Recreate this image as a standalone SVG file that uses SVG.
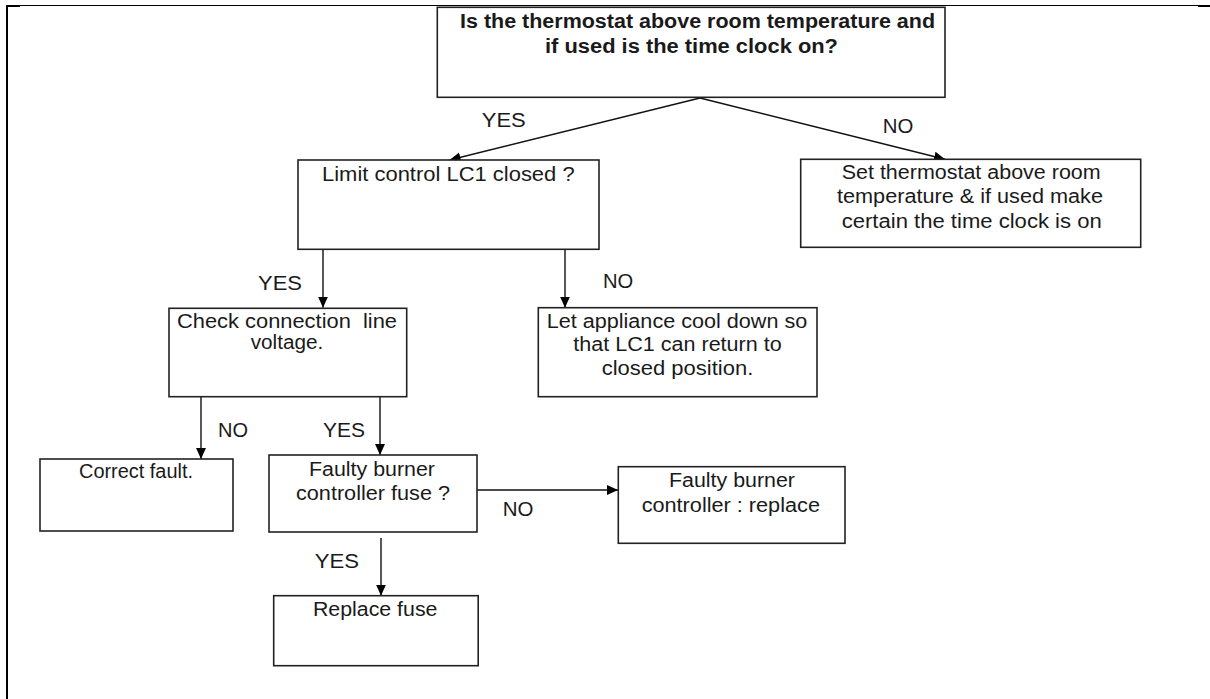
<svg xmlns="http://www.w3.org/2000/svg" width="1210" height="699" viewBox="0 0 1210 699">
<style>
  .box { fill: #ffffff; stroke: #222222; stroke-width: 1.6; }
  .t { font-family: "Liberation Sans", Arial, sans-serif; font-size: 20px; fill: #1a1a1a; text-anchor: middle; }
  .b { font-weight: bold; }
  .lbl { font-family: "Liberation Sans", Arial, sans-serif; font-size: 20px; fill: #1a1a1a; }
  .conn { stroke: #111111; stroke-width: 1.4; fill: none; marker-end: url(#arr); }
  .frame { stroke: #000000; fill: none; }
</style>
<defs>
  <marker id="arr" viewBox="0 0 10 10" refX="10" refY="5" markerWidth="11" markerHeight="11" markerUnits="userSpaceOnUse" orient="auto">
    <path d="M0,0.5 L10,5 L0,9.5 z" fill="#000000"/>
  </marker>
</defs>
<rect width="1210" height="699" fill="#ffffff"/>
<g id="frame">
  <line class="frame" x1="6" y1="5.5" x2="1198" y2="5.5" stroke-width="1"/>
  <rect x="6" y="5" width="14" height="2" fill="#000000"/>
  <rect x="1198" y="5" width="12" height="2" fill="#000000"/>
  <rect x="6" y="5" width="2" height="694" fill="#000000"/>
</g>
<g id="connectors">
  <line class="conn" x1="700" y1="98" x2="449.6" y2="160"/>
  <line class="conn" x1="700" y1="98" x2="945" y2="159.3"/>
  <line class="conn" x1="323" y1="249.3" x2="323" y2="307.7"/>
  <line class="conn" x1="565" y1="249.3" x2="565" y2="307.7"/>
  <line class="conn" x1="201" y1="396.7" x2="201" y2="459"/>
  <line class="conn" x1="380" y1="396.7" x2="380" y2="455"/>
  <line class="conn" x1="477" y1="490" x2="618" y2="490"/>
  <line class="conn" x1="381" y1="538" x2="381" y2="595.7"/>
  <text class="lbl" x="481.8" y="126.7" textLength="44" lengthAdjust="spacingAndGlyphs">YES</text>
  <text class="lbl" x="882.7" y="133.3" textLength="30.6" lengthAdjust="spacingAndGlyphs">NO</text>
  <text class="lbl" x="258" y="290" textLength="44" lengthAdjust="spacingAndGlyphs">YES</text>
  <text class="lbl" x="603" y="288.3" textLength="30.3" lengthAdjust="spacingAndGlyphs">NO</text>
  <text class="lbl" x="218" y="437" textLength="30" lengthAdjust="spacingAndGlyphs">NO</text>
  <text class="lbl" x="323" y="437" textLength="42" lengthAdjust="spacingAndGlyphs">YES</text>
  <text class="lbl" x="502.8" y="516" textLength="30.7" lengthAdjust="spacingAndGlyphs">NO</text>
  <text class="lbl" x="314.7" y="568.3" textLength="44.3" lengthAdjust="spacingAndGlyphs">YES</text>
</g>
<g id="n-start">
  <rect class="box" x="437.3" y="7.3" width="507.7" height="90"/>
  <text class="t b" x="697.5" y="28.3" textLength="475" lengthAdjust="spacingAndGlyphs">Is the thermostat above room temperature and</text>
  <text class="t b" x="691.5" y="53.3" textLength="293" lengthAdjust="spacingAndGlyphs">if used is the time clock on?</text>
</g>
<g id="n-limit">
  <rect class="box" x="298" y="160" width="301" height="89.3"/>
  <text class="t" x="448.3" y="180.7" textLength="252.6" lengthAdjust="spacingAndGlyphs">Limit control LC1 closed ?</text>
</g>
<g id="n-set">
  <rect class="box" x="800.7" y="159.3" width="340" height="88"/>
  <text class="t" x="971.2" y="179.3" textLength="259" lengthAdjust="spacingAndGlyphs">Set thermostat above room</text>
  <text class="t" x="970" y="203.3" textLength="266" lengthAdjust="spacingAndGlyphs">temperature &amp; if used make</text>
  <text class="t" x="971.7" y="228.3" textLength="260" lengthAdjust="spacingAndGlyphs">certain the time clock is on</text>
</g>
<g id="n-check">
  <rect class="box" x="169" y="308.3" width="237.7" height="88.4"/>
  <text class="t" x="287" y="328.3" textLength="220" lengthAdjust="spacingAndGlyphs" xml:space="preserve">Check connection  line</text>
  <text class="t" x="287" y="349" textLength="72.6" lengthAdjust="spacingAndGlyphs">voltage.</text>
</g>
<g id="n-cool">
  <rect class="box" x="538.3" y="307.7" width="278.7" height="89"/>
  <text class="t" x="677" y="328.3" textLength="260.6" lengthAdjust="spacingAndGlyphs">Let appliance cool down so</text>
  <text class="t" x="677.5" y="351" textLength="208.4" lengthAdjust="spacingAndGlyphs">that LC1 can return to</text>
  <text class="t" x="677.5" y="375" textLength="151.6" lengthAdjust="spacingAndGlyphs">closed position.</text>
</g>
<g id="n-correct">
  <rect class="box" x="40" y="459" width="193" height="72"/>
  <text class="t" x="136" y="478" textLength="114" lengthAdjust="spacingAndGlyphs">Correct fault.</text>
</g>
<g id="n-fuse">
  <rect class="box" x="269" y="455" width="208" height="77"/>
  <text class="t" x="372" y="476" textLength="126" lengthAdjust="spacingAndGlyphs">Faulty burner</text>
  <text class="t" x="373" y="500" textLength="154" lengthAdjust="spacingAndGlyphs">controller fuse ?</text>
</g>
<g id="n-controller">
  <rect class="box" x="618.3" y="466.7" width="226.7" height="76.6"/>
  <text class="t" x="732" y="486.7" textLength="126" lengthAdjust="spacingAndGlyphs">Faulty burner</text>
  <text class="t" x="730.8" y="511.7" textLength="178.3" lengthAdjust="spacingAndGlyphs">controller : replace</text>
</g>
<g id="n-replace">
  <rect class="box" x="273.7" y="595.7" width="204.5" height="70"/>
  <text class="t" x="375.2" y="616" textLength="124.5" lengthAdjust="spacingAndGlyphs">Replace fuse</text>
</g>
</svg>
